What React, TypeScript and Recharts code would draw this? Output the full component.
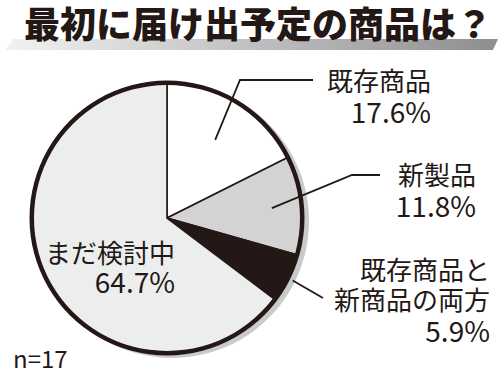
import { PieChart, Pie, Cell } from "recharts";

// Data
const categories = ["既存商品", "新製品", "既存商品と新商品の両方", "まだ検討中"];
const shares = [17.6, 11.8, 5.9, 64.7];
const labelRows = [["既存商品"], ["新製品"], ["既存商品と", "新商品の両方"], ["まだ検討中"]];
const sampleSize = 17;
const title = "最初に届け出予定の商品は？";

// Style
const INK = "#231815";
const FONT = "'Noto Sans CJK JP', 'Noto Sans', sans-serif";
const sliceColors = ["#ffffff", "#d3d3d4", INK, "#eceeee"];

// label placement (text right edge, baselines, leader line)
const labelLayout = [
  { x: 431, rows: [91], pct: 123, lineR: 0.68, leader: [[240, 80], [313, 80]] },
  { x: 476, rows: [185], pct: 217, lineR: 0.78, leader: [[352, 175], [380, 175]] },
  { x: 490, rows: [280, 310], pct: 342, lineR: 1.04, leader: [[323, 298]] },
  { x: 175, rows: [263], pct: 293, lineR: 0, leader: [] },
];

const data = categories.map((name, i) => ({ name, value: shares[i] }));

const RAD = Math.PI / 180;

function renderLabel(props: any) {
  const { cx, cy, midAngle, outerRadius, index } = props;
  const L = labelLayout[index];
  const pts: number[][] = [];
  if (L.leader.length) {
    const r = outerRadius * L.lineR;
    pts.push([cx + r * Math.cos(-midAngle * RAD), cy + r * Math.sin(-midAngle * RAD)]);
    L.leader.forEach((p) => pts.push(p));
  }
  return (
    <g key={`label-${index}`}>
      {pts.length > 0 && (
        <polyline
          points={pts.map((p) => p.join(",")).join(" ")}
          fill="none"
          stroke={INK}
          strokeWidth={1.8}
        />
      )}
      {labelRows[index].map((row, j) => (
        <text key={j} x={L.x} y={L.rows[j]} textAnchor="end" fill={INK} fontSize={26} fontFamily={FONT}>
          {row}
        </text>
      ))}
      <text x={L.x} y={L.pct} textAnchor="end" fill={INK} fontSize={28} fontFamily={FONT}>
        {shares[index].toFixed(1)}%
      </text>
    </g>
  );
}

function App() {
  return (
    <div style={{ position: "absolute", left: 0, top: 0, width: 500, height: 375, background: "#fff" }}>
      <svg width={500} height={375} style={{ position: "absolute", left: 0, top: 0 }}>
        <defs>
          <linearGradient id="band" x1="0" y1="0" x2="1" y2="0">
            <stop offset="0%" stopColor="#f2f2f2" />
            <stop offset="100%" stopColor="#8e8e8e" />
          </linearGradient>
        </defs>
        <polygon points="13,39 498,39 493,50 5,50" fill="url(#band)" />
        <text x={24} y={38} fontSize={36} fontWeight={900} fill={INK} fontFamily={FONT}>
          {title}
        </text>
        <text x={13} y={368} fontSize={24} fill={INK} fontFamily={FONT}>
          n={sampleSize}
        </text>
      </svg>
      <div style={{ position: "absolute", left: 0, top: 0 }}>
        <PieChart width={500} height={375}>
          <Pie
            data={[{ value: 1 }]}
            dataKey="value"
            cx={167}
            cy={216}
            outerRadius={137}
            startAngle={90}
            endAngle={-270}
            fill="#c9caca"
            stroke="none"
            isAnimationActive={false}
          />
          <Pie
            data={data}
            dataKey="value"
            cx={162}
            cy={213}
            outerRadius={135}
            startAngle={90}
            endAngle={-270}
            stroke={INK}
            strokeWidth={1.6}
            label={renderLabel}
            labelLine={false}
            isAnimationActive={false}
          >
            {data.map((entry, index) => (
              <Cell key={`cell-${index}`} fill={sliceColors[index]} />
            ))}
          </Pie>
          <Pie
            data={[{ value: 1 }]}
            dataKey="value"
            cx={162}
            cy={213}
            innerRadius={133}
            outerRadius={137.5}
            startAngle={90}
            endAngle={-270}
            fill={INK}
            stroke="none"
            isAnimationActive={false}
          />
        </PieChart>
      </div>
    </div>
  );
}

export default App;
